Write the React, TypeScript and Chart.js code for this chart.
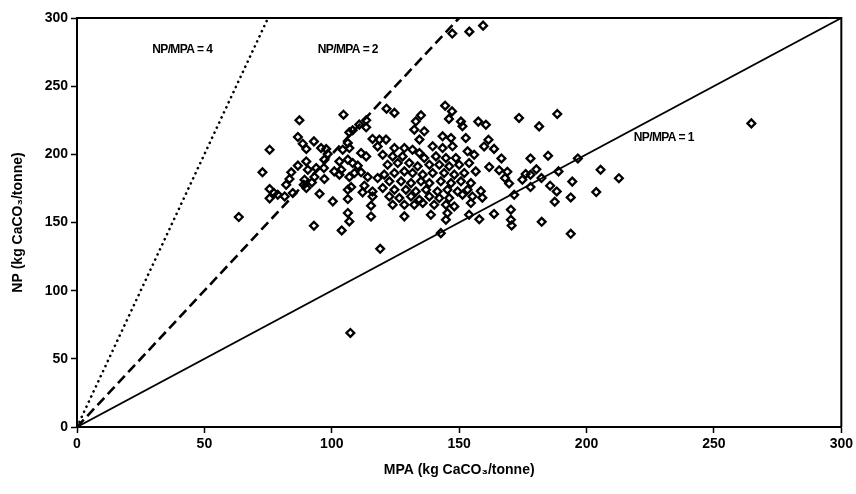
import React, { useEffect, useRef } from "react";
import { Chart, registerables } from "chart.js";

Chart.register(...registerables);

// MPA (x) and NP (y) values, kg CaCO3/tonne
const MPA = [
  63.5, 72.8, 75.6, 119, 107.3, 147.3, 154, 159.4, 264.7, 205.5, 212.7, 188.5, 181.4, 178, 184.9, 180.3, 178, 182.3, 189, 196.6,
  194.4, 178, 185.7, 188.3, 203.8, 193.8, 187.5, 182.4, 193.8,
  144.5, 147.2, 146, 150.7, 157.5, 160.5, 173.5, 161.5, 159.8, 163.7, 166.6, 161.8, 165.7, 168.9, 168, 174.8, 176.1,
  158.5, 159.1, 169.6, 171.6, 157.9, 163.7, 170.3, 170.3, 170.6, 142.8,
  104.6, 87.3, 113.5, 113.5, 110.8, 106.9, 108.2, 86.7, 93, 88.6, 90, 95.8, 97.8, 98.4, 104.3, 106.3, 106.9, 116, 118.7, 111.5,
  113.5, 97.1, 90, 86.7, 90.6, 93.9, 96.9, 103, 106.3, 108.2, 110.2, 101, 103.7, 103, 106.9, 108.9, 111.5, 114.1, 118,
  84.1, 83.4, 82.1, 89.3, 93.2, 97.1, 92.2, 90, 89, 75.6, 77.3, 75.6, 78.8, 81.5, 84.7, 95.2, 100.4, 106.3, 106.3,
  107.6, 112.8, 112.1, 116, 116, 115.4, 106.3, 106.9, 115.4, 93, 103.9,
  121.5, 124.6, 135, 133, 118,
  132.4, 136.3, 151.3, 121.3, 134.4, 143.5, 146.8, 152.6, 124.6, 128.5, 131.7, 139.6, 143.5, 147.4, 153.3,
  120, 123.9, 127.8, 134.4, 136.3, 140.9, 144.8, 148.7, 155.9,
  121.9, 125.9, 130.4, 133.7, 138.3, 142.2, 146.1, 150, 153.9,
  120.6, 124.6, 128.5, 131.7, 135.7, 139.6, 144.1, 148.1, 152, 156.5,
  122.6, 127.2, 131.1, 135, 138.3, 142.8, 146.8, 150.7, 154.6,
  120, 124.6, 129.1, 133, 137, 141.5, 145.4, 149.4, 153.3,
  122.6, 126.5, 131.1, 134.4, 138.3, 142.2, 146.1, 151.3, 155.2,
  123.9, 128.5, 132.4, 135.7, 140.2, 144.8, 148.1, 154.6,
  128.5, 138.9, 145.4, 153.9, 144.8,
];
const NP = [
  154, 186.8, 203.4, 130.7, 69, 288.6, 290, 294.4, 222.7, 188.7, 182.5, 229.6, 220.5, 197, 199, 189, 185, 182.6, 187.5, 197,
  180, 176, 177, 172.8, 172.3, 168.4, 165.2, 150.5, 141.7,
  235.7, 231.5, 226, 224, 224, 221.7, 226.7, 210.7, 205.8, 204, 197, 190.7, 188.3, 187.2, 182.6, 181.4, 185.6,
  173, 168.2, 178.6, 170.3, 152.4, 156.3, 159.4, 152, 147.8, 142.2,
  229.1, 225, 225, 219.8, 221.8, 216.1, 217.6, 212.7, 209.5, 207.8, 203.9, 204.6, 203.9, 200.3, 203.4, 208.3, 204.6, 211.3, 210.8, 201,
  198.5, 196.1, 194.8, 191.7, 188.7, 190, 190, 194.8, 196.1, 193.6, 191.7, 187.5, 188.7, 185.1, 183.4, 186.3, 186.8, 183.4, 182.6,
  186.8, 181.9, 177.7, 181.4, 183.4, 181.9, 179.4, 175.3, 177.7, 174.6, 171.6, 167.7, 170.4, 169.1, 171.6, 171.1, 165.5, 174, 167.2,
  176, 177, 172.1, 172.8, 169.1, 162.3, 157, 150.8, 154.4, 147.6, 144.2,
  233.5, 230.4, 228.6, 224.2, 205.8,
  218.1, 216.9, 220.6, 210.8, 210.8, 213.2, 212, 212, 204.6, 204.6, 203.4, 205.9, 204.6, 205.9, 202.2,
  199.7, 198.5, 198.5, 201, 197.3, 198.5, 197.3, 197.3, 199.7,
  192.4, 193.6, 193.6, 191.2, 192.4, 192.4, 191.2, 192.4, 193.6,
  185.1, 186.3, 187.5, 186.3, 185.1, 186.3, 186.3, 185.1, 186.3, 187.5,
  180.2, 180.2, 178.9, 180.2, 178.9, 180.2, 178.9, 180.2, 178.9,
  175.3, 174, 174, 172.8, 174, 172.8, 174, 172.8, 174,
  169.1, 167.9, 169.1, 166.7, 169.1, 167.9, 167.9, 170.4, 169.1,
  163, 163, 163, 164.3, 163, 163, 161.8, 164.3,
  154.5, 155.7, 156.9, 155.7, 152,
];

// Reference lines NP/MPA = ratio
const RATIOS = [4, 2, 1];
const RATIO_LABELS = ["NP/MPA = 4", "NP/MPA = 2", "NP/MPA = 1"];
const LABEL_X = [29.5, 94.5, 218.5];
const LABEL_Y = [277, 277, 212];

const X_TICKS = [0, 50, 100, 150, 200, 250, 300];
const Y_TICKS = [0, 50, 100, 150, 200, 250, 300];

const AXIS_MAX = 300;
const FONT = '"Liberation Sans", Arial, Helvetica, sans-serif';

const framePlugin = {
  id: "frameAndLabels",
  afterDatasetsDraw(chart: any) {
    const { ctx, chartArea: a, scales } = chart;
    ctx.save();
    ctx.strokeStyle = "#000";
    ctx.lineWidth = 2;
    ctx.beginPath();
    ctx.moveTo(a.left, a.top);
    ctx.lineTo(a.right, a.top);
    ctx.lineTo(a.right, a.bottom);
    ctx.stroke();
    ctx.fillStyle = "#000";
    ctx.font = `bold 12px ${FONT}`;
    try {
      (ctx as any).letterSpacing = "-0.6px";
    } catch (e) {}
    ctx.textAlign = "left";
    ctx.textBaseline = "middle";
    RATIO_LABELS.forEach((t, i) => {
      ctx.fillText(t, scales.x.getPixelForValue(LABEL_X[i]), scales.y.getPixelForValue(LABEL_Y[i]));
    });
    ctx.restore();
  },
};

export default function App() {
  const ref = useRef<HTMLCanvasElement | null>(null);

  useEffect(() => {
    if (!ref.current) return;
    const points = MPA.map((x, i) => ({ x, y: NP[i] }));
    const lineStyles = [
      { borderDash: [0.1, 5.5], borderCapStyle: "round", borderWidth: 2.6 },
      { borderDash: [10, 5], borderCapStyle: "butt", borderWidth: 2.6 },
      { borderDash: [], borderCapStyle: "butt", borderWidth: 1.8 },
    ];
    const lineSets = RATIOS.map((r, i) => ({
      type: "line" as const,
      data: [
        { x: 0, y: 0 },
        { x: AXIS_MAX / r, y: AXIS_MAX },
      ],
      borderColor: "#000",
      pointRadius: 0,
      fill: false,
      tension: 0,
      ...lineStyles[i],
    }));

    const chart = new Chart(ref.current, {
      type: "scatter",
      data: {
        datasets: [
          ...lineSets,
          {
            type: "scatter",
            data: points,
            pointStyle: "rectRot",
            pointRadius: 3.9,
            pointBorderWidth: 2.3,
            borderColor: "#000",
            backgroundColor: "rgba(255,255,255,0)",
          } as any,
        ] as any,
      },
      options: {
        animation: false,
        responsive: false,
        devicePixelRatio: 1,
        layout: { padding: { top: 18, right: 13, left: 0, bottom: 0 } },
        plugins: { legend: { display: false }, tooltip: { enabled: false } },
        scales: {
          x: {
            type: "linear",
            min: 0,
            max: AXIS_MAX,
            afterFit: (s: any) => {
              s.height = 67;
            },
            afterBuildTicks: (s: any) => {
              s.ticks = X_TICKS.map((v) => ({ value: v }));
            },
            ticks: { color: "#000", font: { family: FONT, size: 14, weight: "bold" }, padding: 3, maxRotation: 0 },
            grid: { drawOnChartArea: false, drawTicks: true, tickLength: 6, tickWidth: 1.5, tickColor: "#000" },
            border: { display: true, color: "#000", width: 2 },
            title: {
              display: true,
              text: "MPA (kg CaCO₃/tonne)",
              color: "#000",
              font: { family: FONT, size: 14, weight: "bold" },
              padding: { top: 0, bottom: 15 },
            },
          },
          y: {
            type: "linear",
            min: 0,
            max: AXIS_MAX,
            afterFit: (s: any) => {
              s.width = 77;
            },
            afterBuildTicks: (s: any) => {
              s.ticks = Y_TICKS.map((v) => ({ value: v }));
            },
            ticks: { color: "#000", font: { family: FONT, size: 14, weight: "bold" }, padding: 3 },
            grid: { drawOnChartArea: false, drawTicks: true, tickLength: 6, tickWidth: 1.5, tickColor: "#000" },
            border: { display: true, color: "#000", width: 2 },
            title: {
              display: true,
              text: "NP (kg CaCO₃/tonne)",
              color: "#000",
              font: { family: FONT, size: 14, weight: "bold" },
              padding: { top: 10, bottom: 0 },
            },
          },
        },
      } as any,
      plugins: [framePlugin],
    });
    return () => chart.destroy();
  }, []);

  return (
    <div style={{ position: "fixed", left: 0, top: 0, width: 856, height: 494, background: "#fff" }}>
      <canvas ref={ref} width={856} height={494} style={{ display: "block" }} />
    </div>
  );
}
